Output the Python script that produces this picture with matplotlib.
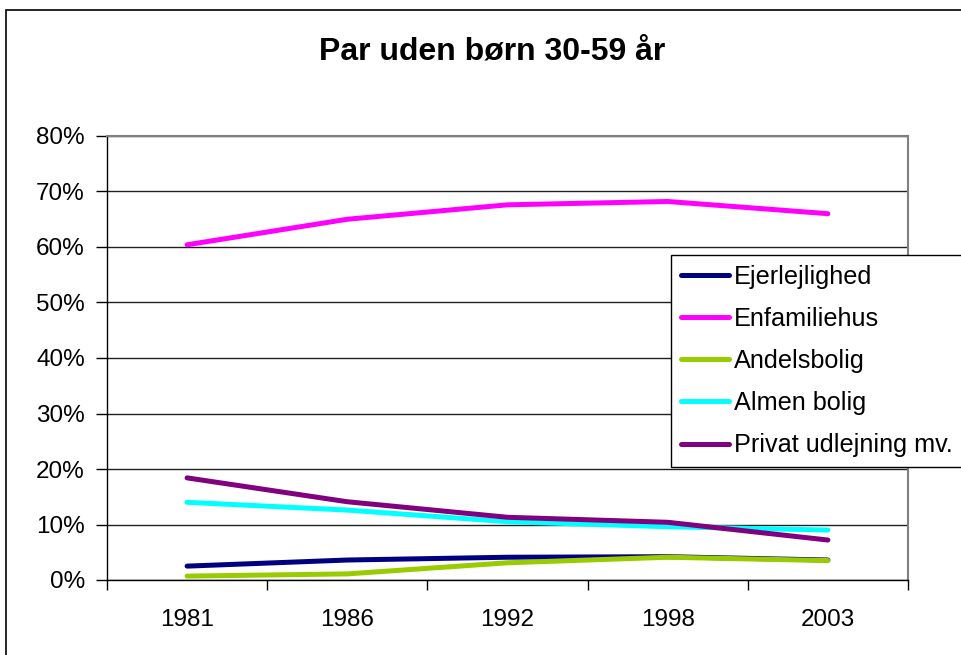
import matplotlib
matplotlib.use("Agg")
import matplotlib.pyplot as plt
from matplotlib.patches import Rectangle
from matplotlib.ticker import FuncFormatter

plt.rcParams['font.family'] = ['Liberation Sans', 'DejaVu Sans']

years = ["1981", "1986", "1992", "1998", "2003"]
ejerlejlighed = [2.5, 3.6, 4.1, 4.2, 3.6]
enfamiliehus = [60.4, 65.0, 67.6, 68.2, 66.0]
andelsbolig = [0.7, 1.1, 3.1, 4.1, 3.5]
almen_bolig = [14.0, 12.6, 10.5, 9.6, 9.0]
privat_udlejning = [18.4, 14.1, 11.3, 10.4, 7.2]

series = [
    ("Ejerlejlighed", ejerlejlighed, "#000080"),
    ("Enfamiliehus", enfamiliehus, "#FF00FF"),
    ("Andelsbolig", andelsbolig, "#99CC00"),
    ("Almen bolig", almen_bolig, "#00FFFF"),
    ("Privat udlejning mv.", privat_udlejning, "#800080"),
]

W, H = 962, 655
fig = plt.figure(figsize=(W / 100, H / 100), dpi=100)
fig.patch.set_facecolor("white")

# outer chart border
fig.patches.append(Rectangle((6 / W, -0.05), 1.1, 1 - 10 / H + 0.05,
                             transform=fig.transFigure, fill=False,
                             edgecolor="black", linewidth=1.2))

left, right, top, bottom = 107, 908, 136, 580
ax = fig.add_axes([left / W, 1 - bottom / H, (right - left) / W, (bottom - top) / H])

x = list(range(len(years)))
for name, vals, col in series:
    ax.plot(x, vals, color=col, linewidth=3.6, label=name,
            solid_capstyle="round", solid_joinstyle="round", zorder=3)

ax.set_xlim(-0.5, len(years) - 0.5)
ax.set_ylim(0, 80)
ax.set_yticks(range(0, 81, 10))
ax.yaxis.set_major_formatter(FuncFormatter(lambda v, p: f"{int(v)}%"))
ax.set_xticks(x)
ax.set_xticklabels(years)
ax.set_xticks([i - 0.5 for i in range(len(years) + 1)], minor=True)
ax.tick_params(axis="x", which="major", length=0, pad=21, labelsize=17.5)
ax.tick_params(axis="x", which="minor", length=7, width=1, color="black", direction="out")
ax.tick_params(axis="y", length=8, width=1, color="black", direction="out", pad=8, labelsize=17.5)

ax.grid(axis="y", color="#202020", linewidth=1)
ax.set_axisbelow(True)
for s in ["top", "right"]:
    ax.spines[s].set_color("#808080")
    ax.spines[s].set_linewidth(1.5)
for s in ["left", "bottom"]:
    ax.spines[s].set_color("black")
    ax.spines[s].set_linewidth(1)

fig.text(492.5 / W, 1 - 52 / H, "Par uden børn 30-59 år", ha="center", va="center",
         fontsize=23, fontweight="bold")

leg = fig.legend(loc="upper left", bbox_to_anchor=(671 / W, 1 - 255 / H),
                 bbox_transform=fig.transFigure, borderaxespad=0,
                 frameon=True, fancybox=False, shadow=False,
                 fontsize=18.2, handlelength=1.9, handletextpad=0.2,
                 labelspacing=0.72, borderpad=0.38)
leg.get_frame().set_edgecolor("black")
leg.get_frame().set_linewidth(1)
leg.get_frame().set_facecolor("white")
leg.get_frame().set_alpha(1)

fig.savefig("out.png", dpi=100)
